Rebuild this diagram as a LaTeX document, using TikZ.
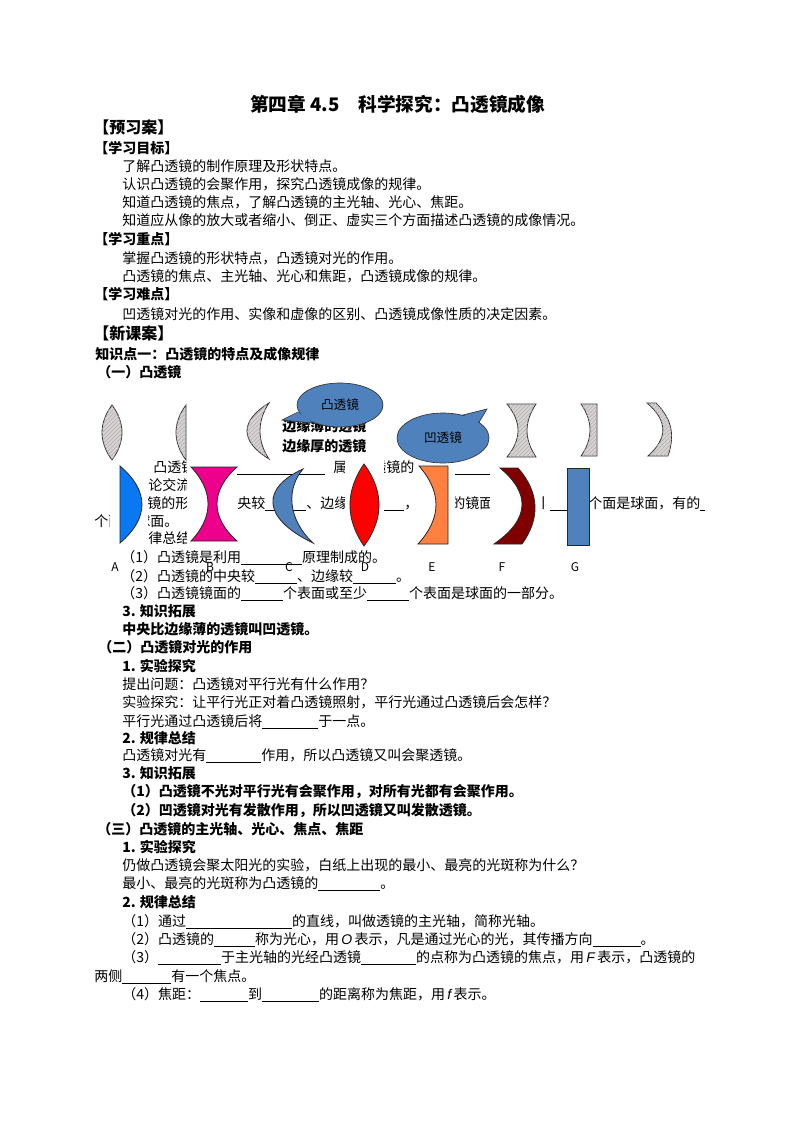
\documentclass[tikz,border=0pt]{standalone}
\usepackage{fontspec}
\setmainfont{Noto Sans CJK SC}
\newfontfamily\latinfont{Liberation Sans}
\usetikzlibrary{patterns}
\usetikzlibrary{shapes.geometric}
\definecolor{lensgray}{HTML}{D8D2D2}
\definecolor{calloutblue}{HTML}{4F81BD}
\definecolor{lensblue}{HTML}{0A78F0}
\definecolor{lensorange}{HTML}{FF8040}
\definecolor{lensmaroon}{HTML}{800000}
\newcommand{\blank}[1]{\rule[-2.2pt]{\dimexpr#1pt*3/4\relax}{0.5pt}}
\newcommand{\sym}[1]{{\latinfont\itshape\,#1\,}}
\tikzset{
	txt/.style={anchor=base west, inner sep=0pt, font=\fontsize{10.5}{12}\selectfont},
	bold/.style={txt, font=\fontsize{10.5}{12}\selectfont\bfseries},
	big/.style={txt, font=\fontsize{12}{14}\selectfont\bfseries},
	letter/.style={anchor=base, inner sep=0pt, font=\fontsize{9}{10}\selectfont\rmfamily},
	patch/.style={fill=white, draw=none},
	hatched/.style={draw=black!80, line width=0.6pt, fill=lensgray, postaction={pattern=north east lines, pattern color=black!30}},
	solid/.style={draw=black!85, line width=0.6pt, fill=#1},
	bubble/.style={ellipse, draw=black!80, line width=0.5pt, fill=calloutblue, inner sep=0pt, font=\fontsize{9.5}{11}\selectfont}
}
\begin{document}
\begin{tikzpicture}[x=0.75pt, y=-0.75pt]
	\path[use as bounding box, fill=white] (0,0) rectangle (794,1123);

	% header and first part
	\node[txt, font=\fontsize{14}{16}\selectfont\bfseries] (title) at (250,112) {第四章 4.5\hspace{1em}科学探究：凸透镜成像};
	\node[big] (preview) at (93,134) {【预习案】};
	\node[bold] (goals) at (94,154) {【学习目标】};
	\node[txt] (goal1) at (122,172) {了解凸透镜的制作原理及形状特点。};
	\node[txt] (goal2) at (122,190) {认识凸透镜的会聚作用，探究凸透镜成像的规律。};
	\node[txt] (goal3) at (122,208) {知道凸透镜的焦点，了解凸透镜的主光轴、光心、焦距。};
	\node[txt] (goal4) at (122,226) {知道应从像的放大或者缩小、倒正、虚实三个方面描述凸透镜的成像情况。};
	\node[bold] (focus) at (94,244) {【学习重点】};
	\node[txt] (focus1) at (122,263) {掌握凸透镜的形状特点，凸透镜对光的作用。};
	\node[txt] (focus2) at (122,281) {凸透镜的焦点、主光轴、光心和焦距，凸透镜成像的规律。};
	\node[bold] (hard) at (94,299) {【学习难点】};
	\node[txt] (hard1) at (122,319) {凹透镜对光的作用、实像和虚像的区别、凸透镜成像性质的决定因素。};
	\node[big] (lesson) at (93,339) {【新课案】};
	\node[bold] (point) at (95,359) {知识点一：凸透镜的特点及成像规律};
	\node[bold] (sec1) at (97,377) {（一）凸透镜};

	% text lying behind the lenses
	\node[bold] (thin) at (282,431) {边缘薄的透镜};
	\node[bold] (thick) at (282,451) {边缘厚的透镜};
	\node[txt] (row1a) at (153,472) {凸透镜};
	\node[txt] (row1b) at (237,472) {\blank{88}};
	\node[txt] (row1c) at (333,472) {属};
	\node[txt] (row1d) at (372,472) {透镜的};
	\node[txt] (row1e) at (455,472) {\blank{35}};
	\node[txt] (row2a) at (134,490) {讨论交流};
	\node[txt] (row3a) at (147,508) {镜的形状};
	\node[txt] (row3b) at (223,508) {中央较\blank{41}、边缘};
	\node[txt] (row3c) at (375,508) {\blank{29}，};
	\node[txt] (row3d) at (451,508) {的镜面};
	\node[txt] (row3e) at (536,508) {丨\blank{30}};
	\node[txt] (row3f) at (588,508) {个面是球面，有的\blank{5}};
	\node[txt] (row4a) at (94,526) {个面};
	\node[txt] (row4b) at (136,526) {球面。};
	\node[txt] (row5a) at (134,543) {规律总结};

	% white behind the pictures
	\fill[patch] (110,460) rectangle (148,548);
	\fill[patch] (187,460) rectangle (237,548);
	\fill[patch] (345,460) rectangle (384,548);
	\fill[patch] (416,460) rectangle (455,548);
	\fill[patch] (490,460) rectangle (540,548);

	% upper row
	\draw[hatched] (112,405) .. controls (98.7,423) and (98.7,442) .. (112,460) .. controls (125.3,442) and (125.3,423) .. (112,405) -- cycle;
	\draw[hatched] (186,405) .. controls (172.7,423) and (172.7,442) .. (186,460) -- cycle;
	\draw[hatched] (269,403) .. controls (239.7,421) and (239.7,441) .. (269,459) .. controls (257,441) and (257,421) .. (269,403) -- cycle;
	\draw[hatched] (507,404) .. controls (521.7,422) and (521.7,439) .. (507,457) -- (536,457) .. controls (524,439) and (524,422) .. (536,404) -- cycle;
	\draw[hatched] (581,404) .. controls (593,421) and (593,439) .. (581,456) -- (597,456) -- (597,404) -- cycle;
	\draw[hatched] (647,403) .. controls (668,421) and (668,438) .. (648,456) -- (668,456) .. controls (674,438) and (674,421) .. (656,403) -- cycle;

	% speech bubbles
	\draw[draw=black!80, line width=0.5pt, fill=calloutblue] (298,412) -- (282,420) -- (312,423) -- cycle;
	\node[bubble, minimum width=64.5pt, minimum height=33pt] (convex) at (340,405) {凸透镜};
	\fill[calloutblue] (298,412) -- (285,419.5) -- (312,422) -- cycle;
	\draw[draw=black!80, line width=0.5pt, fill=calloutblue] (463,415) -- (487,409) -- (478,424) -- cycle;
	\node[bubble, minimum width=69pt, minimum height=37.5pt] (concave) at (443,438) {凹透镜};
	\fill[calloutblue] (463,416) -- (485,411) -- (477,423) -- cycle;

	% lower row
	\draw[solid=lensblue] (120,466) .. controls (149.3,491) and (149.3,518) .. (120,543) -- cycle;
	\draw[solid=magenta] (191,467) .. controls (213.7,491) and (213.7,517) .. (191,541) -- (237,541) .. controls (210.3,517) and (210.3,491) .. (237,467) -- cycle;
	\draw[solid=calloutblue] (303,469) .. controls (261.3,488) and (261.3,518) .. (313,543) .. controls (286.7,518) and (286.7,488) .. (303,469) -- cycle;
	\draw[solid=red] (364,464) .. controls (345.3,491) and (345.3,519) .. (364,546) .. controls (384,519) and (384,491) .. (364,464) -- cycle;
	\draw[solid=lensorange] (419,466) .. controls (441.8,492) and (441.8,518) .. (418,544) -- (448,544) -- (448,466) -- cycle;
	\draw[solid=lensmaroon] (500,468) .. controls (530.3,493) and (530.3,519) .. (494,544) -- (522,544) .. controls (540,519) and (540,493) .. (518,468) -- cycle;
	\draw[solid=calloutblue] (567,468) rectangle (589,545);

	% names of the lenses
	\node[letter] (A) at (115,571) {A};
	\node[letter] (B) at (210,571) {B};
	\node[letter] (C) at (289,571) {C};
	\node[letter] (D) at (365,571) {D};
	\node[letter] (E) at (432,571) {E};
	\node[letter] (F) at (502,571) {F};
	\node[letter] (G) at (575,571) {G};

	% rest of the first section
	\node[txt] (ans1) at (121,562) {（1）凸透镜是利用\blank{61}原理制成的。};
	\node[txt] (ans2) at (121,581) {（2）凸透镜的中央较\blank{42}、边缘较\blank{43}。};
	\node[txt] (ans3) at (121,598) {（3）凸透镜镜面的\blank{42}个表面或至少\blank{42}个表面是球面的一部分。};
	\node[bold] (ext) at (122,616) {3. 知识拓展};
	\node[bold] (ext1) at (122,634) {中央比边缘薄的透镜叫凹透镜。};

	% second section
	\node[bold] (sec2) at (98,652) {（二）凸透镜对光的作用};
	\node[bold] (expa) at (122,671) {1. 实验探究};
	\node[txt] (expa1) at (122,689) {提出问题：凸透镜对平行光有什么作用？};
	\node[txt] (expa2) at (122,707) {实验探究：让平行光正对着凸透镜照射，平行光通过凸透镜后会怎样？};
	\node[txt] (expa3) at (122,726) {平行光通过凸透镜后将\blank{56}于一点。};
	\node[bold] (rulea) at (122,743) {2. 规律总结};
	\node[txt] (rulea1) at (122,760) {凸透镜对光有\blank{55}作用，所以凸透镜又叫会聚透镜。};
	\node[bold] (exta) at (122,778) {3. 知识拓展};
	\node[bold] (exta1) at (122,796) {（1）凸透镜不光对平行光有会聚作用，对所有光都有会聚作用。};
	\node[bold] (exta2) at (122,815) {（2）凹透镜对光有发散作用，所以凹透镜又叫发散透镜。};

	% third section
	\node[bold] (sec3) at (97,834) {（三）凸透镜的主光轴、光心、焦点、焦距};
	\node[bold] (expb) at (122,852) {1. 实验探究};
	\node[txt] (expb1) at (122,870) {仍做凸透镜会聚太阳光的实验，白纸上出现的最小、最亮的光斑称为什么？};
	\node[txt] (expb2) at (122,888) {最小、最亮的光斑称为凸透镜的\blank{62}。};
	\node[bold] (ruleb) at (122,907) {2. 规律总结};
	\node[txt] (ruleb1) at (122,926) {（1）通过\blank{106}的直线，叫做透镜的主光轴，简称光轴。};
	\node[txt] (ruleb2) at (122,944) {（2）凸透镜的\blank{41}称为光心，用\sym{O}表示，凡是通过光心的光，其传播方向\blank{48}。};
	\node[txt] (ruleb3) at (122,962) {（3）\blank{63}于主光轴的光经凸透镜\blank{55}的点称为凸透镜的焦点，用\sym{F}表示，凸透镜的};
	\node[txt] (ruleb4) at (94,981) {两侧\blank{49}有一个焦点。};
	\node[txt] (ruleb5) at (122,999) {（4）焦距：\blank{48}到\blank{57}的距离称为焦距，用\sym{f}表示。};
\end{tikzpicture}
\end{document}
